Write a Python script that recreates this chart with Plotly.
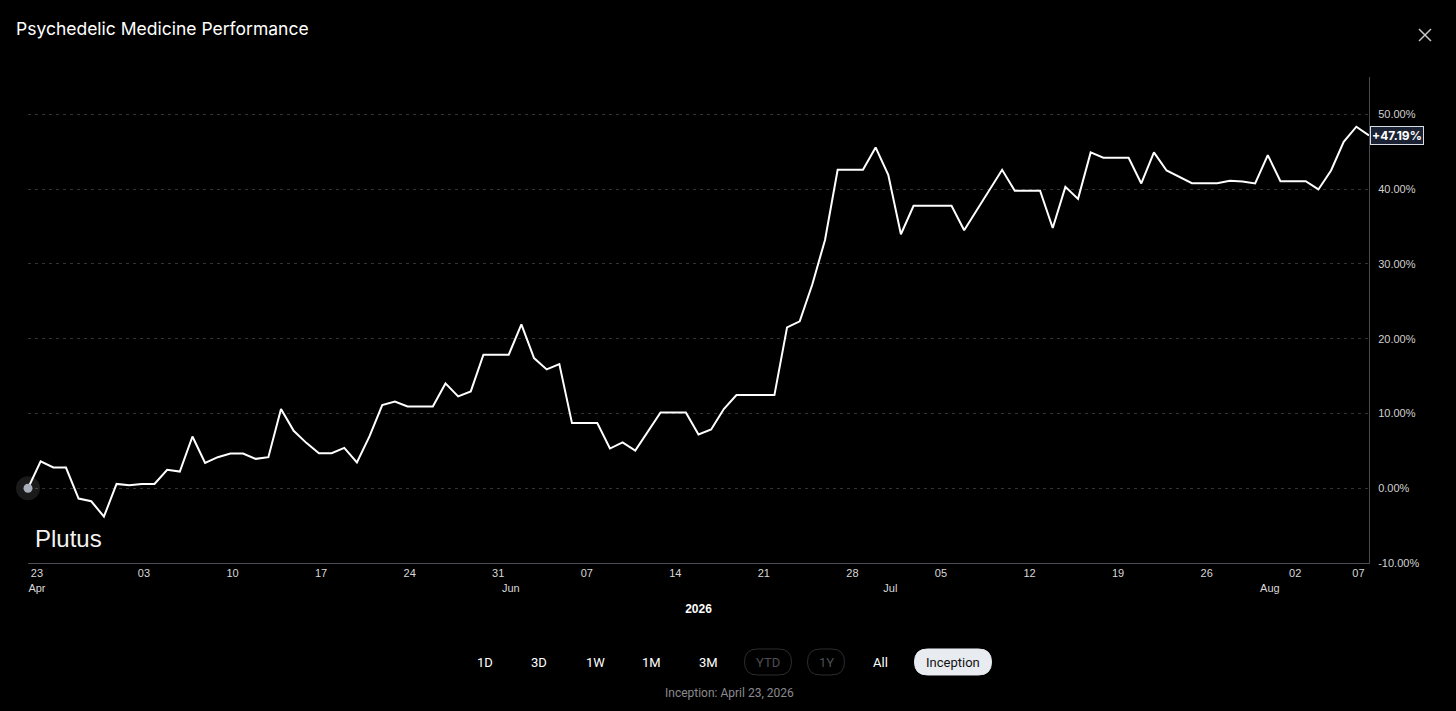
import plotly.graph_objects as go
import pandas as pd

# Daily performance since inception (%)
START = "2026-04-23 20:00"
PERF = [
    0.00, 3.60, 2.77, 2.77, -1.38, -1.74, -3.80, 0.58, 0.40, 0.58,
    0.58, 2.46, 2.23, 6.92, 3.39, 4.15, 4.64, 4.64, 3.93, 4.15,
    10.58, 7.68, 6.07, 4.69, 4.69, 5.40, 3.44, 6.96, 11.12, 11.60,
    10.94, 10.94, 10.94, 14.02, 12.28, 12.95, 17.86, 17.86, 17.86, 21.92,
    17.41, 15.89, 16.61, 8.71, 8.71, 8.71, 5.31, 6.12, 5.04, 7.59,
    10.13, 10.13, 10.13, 7.19, 7.86, 10.60, 12.46, 12.46, 12.46, 12.46,
    21.52, 22.32, 27.28, 33.21, 42.59, 42.59, 42.59, 45.58, 41.92, 33.97,
    37.77, 37.77, 37.77, 37.77, 34.51, 37.20, 39.90, 42.59, 39.78, 39.78,
    39.78, 34.80, 40.31, 38.70, 44.91, 44.20, 44.20, 44.20, 40.76, 44.91,
    42.50, 41.65, 40.80, 40.80, 40.80, 41.12, 41.03, 40.76, 44.55, 41.07,
    41.07, 41.07, 39.96, 42.50, 46.34, 48.35, 47.19,
]
dates = pd.date_range(START, periods=len(PERF), freq="D")

FIRST_TICK = "2026-04-24 13:00"   # label column for the start date
FIRST_LABEL = "23<br>Apr"
WEEK_TICKS = ["2026-05-03", "2026-05-10", "2026-05-17", "2026-05-24", "2026-05-31",
              "2026-06-07", "2026-06-14", "2026-06-21", "2026-06-28", "2026-07-05",
              "2026-07-12", "2026-07-19", "2026-07-26", "2026-08-02", "2026-08-07"]
WEEK_LABELS = ["03", "10", "17", "24", "31", "07", "14", "21", "28", "05",
               "12", "19", "26", "02", "07"]
MONTH_TICKS = ["2026-06-01", "2026-07-01", "2026-07-31"]
MONTH_LABELS = ["Jun", "Jul", "Aug"]
Y_TICKS = [-10, 0, 10, 20, 30, 40, 50]

RANGES = ["1D", "3D", "1W", "1M", "3M", "YTD", "1Y", "All", "Inception"]
RANGE_X = [485, 539, 595, 651, 708, 768, 826, 880, 953]
DISABLED = ["YTD", "1Y"]
ACTIVE = "Inception"

W, H = 1456, 711
PL, PR, PT, PB = 28, 1369, 77, 563


def px(x):
    return (x - PL) / (PR - PL)


def py(y):
    return (PB - y) / (PB - PT)


def pill(x0, y0, x1, y1):
    r = (y1 - y0) / 2
    pts = [
        ("M", [(x0 + r, y0)]), ("L", [(x1 - r, y0)]),
        ("Q", [(x1, y0), (x1, y0 + r)]), ("Q", [(x1, y1), (x1 - r, y1)]),
        ("L", [(x0 + r, y1)]), ("Q", [(x0, y1), (x0, y1 - r)]),
        ("Q", [(x0, y0), (x0 + r, y0)]),
    ]
    s = ""
    for cmd, p in pts:
        s += cmd + " ".join("%.5f,%.5f" % (px(a), py(b)) for a, b in p) + " "
    return s + "Z"


tickvals = [FIRST_TICK] + WEEK_TICKS + MONTH_TICKS
ticktext = [FIRST_LABEL] + WEEK_LABELS + [" <br>" + m for m in MONTH_LABELS]

fig = go.Figure()

fig.add_trace(go.Scatter(
    x=dates, y=PERF, mode="lines",
    line=dict(color="#ffffff", width=2),
    hoverinfo="skip"
))

# start dot with halo
fig.add_trace(go.Scatter(
    x=[dates[0]], y=[PERF[0]], mode="markers",
    marker=dict(size=24, color="rgba(255,255,255,0.10)"),
    cliponaxis=False, hoverinfo="skip"
))
fig.add_trace(go.Scatter(
    x=[dates[0]], y=[PERF[0]], mode="markers",
    marker=dict(size=9, color="#a9afba"),
    cliponaxis=False, hoverinfo="skip"
))

fig.update_layout(
    width=W, height=H,
    paper_bgcolor="#000000", plot_bgcolor="#000000",
    showlegend=False,
    margin=dict(l=PL, r=W - PR, t=PT, b=H - PB),
    title=dict(
        text="Psychedelic Medicine Performance",
        x=16 / W, xanchor="left", xref="container",
        y=1 - 29 / H, yanchor="middle", yref="container",
        font=dict(family="Inter", size=17.5, color="#ffffff")
    ),
    font=dict(family="Liberation Sans", color="#d8d8d8"),
)

fig.update_xaxes(
    type="date",
    range=[dates[0], dates[-1]],
    tickvals=tickvals, ticktext=ticktext,
    tickangle=0,
    tickfont=dict(family="Liberation Sans", size=11, color="#d8d8d8"),
    ticks="", ticklabelstandoff=0,
    showgrid=False, zeroline=False,
    showline=True, linecolor="#4a4a55", linewidth=1,
    title=dict(text="<b>2026</b>", standoff=12,
               font=dict(family="Liberation Sans", size=12, color="#ffffff")),
    automargin=False,
)

fig.update_yaxes(
    side="right",
    range=[-10, 55],
    tickvals=Y_TICKS,
    ticktext=["%.2f%%" % v for v in Y_TICKS],
    tickfont=dict(family="Liberation Sans", size=11, color="#d0d0d0"),
    ticks="", ticklabelstandoff=6,
    showgrid=True, gridcolor="#333333", griddash="3px,4px", gridwidth=1,
    zeroline=False,
    showline=True, linecolor="#4a4a55", linewidth=1,
    automargin=False,
)

annotations = []
shapes = []

# last value label
annotations.append(dict(
    x=dates[-1], y=PERF[-1], xref="x", yref="y",
    text="<b>+%.2f%%</b>" % PERF[-1], showarrow=False,
    xanchor="left", yanchor="middle", xshift=1,
    font=dict(family="Inter", size=12, color="#ffffff"),
    bgcolor="#1b2233", bordercolor="#d8dce3", borderwidth=1, borderpad=1
))

# watermark
annotations.append(dict(
    x=px(33), y=py(538), xref="paper", yref="paper",
    text="Plutus", showarrow=False, xanchor="left", yanchor="middle",
    font=dict(family="Liberation Sans", size=24, color="#f2f2f2")
))

# close icon: two thin strokes
for (xa, ya, xb, yb) in [(1419, 29, 1431, 41), (1419, 41, 1431, 29)]:
    shapes.append(dict(type="line", xref="paper", yref="paper",
                       x0=px(xa), y0=py(ya), x1=px(xb), y1=py(yb),
                       line=dict(color="#c8c8c8", width=1.5)))

# range buttons
pill_w = {"YTD": 47, "1Y": 37, "Inception": 77}
for label, cx in zip(RANGES, RANGE_X):
    color = "#ffffff"
    if label in DISABLED:
        color = "#4d4d52"
        w = pill_w[label]
        shapes.append(dict(type="path", xref="paper", yref="paper",
                           path=pill(cx - w / 2, 649, cx + w / 2, 675),
                           line=dict(color="#2c2c31", width=1)))
    if label == ACTIVE:
        color = "#111111"
        w = pill_w[label]
        shapes.append(dict(type="path", xref="paper", yref="paper",
                           path=pill(cx - w / 2, 649, cx + w / 2, 675),
                           fillcolor="#e8ebf0", line=dict(color="#e8ebf0", width=1)))
    annotations.append(dict(
        x=px(cx), y=py(662), xref="paper", yref="paper",
        text=label, showarrow=False, xanchor="center", yanchor="middle",
        font=dict(family="Roboto", size=13, color=color)
    ))

annotations.append(dict(
    x=px(729), y=py(693), xref="paper", yref="paper",
    text="Inception: April 23, 2026", showarrow=False,
    xanchor="center", yanchor="middle",
    font=dict(family="Roboto", size=12, color="#8a8a8e")
))

fig.update_layout(annotations=annotations, shapes=shapes)

fig.write_html(
    "out.html",
    config={"displayModeBar": False},
    post_script="document.body.style.margin='0px';"
                "document.body.style.backgroundColor='#000000';"
)
